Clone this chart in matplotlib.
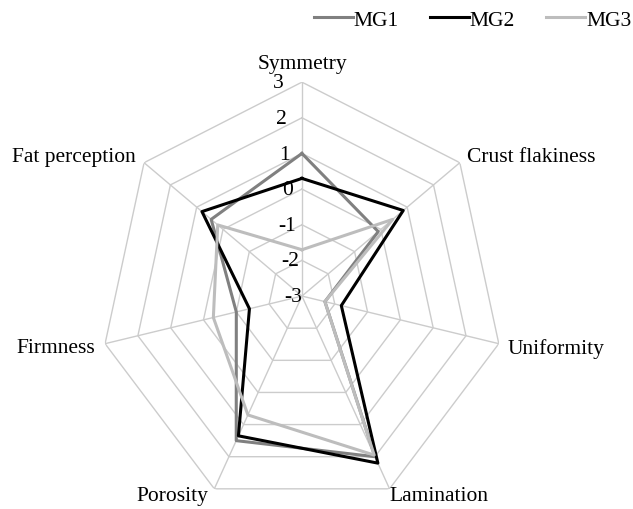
import numpy as np
import matplotlib
matplotlib.use("Agg")
import matplotlib.pyplot as plt

plt.rcParams['font.family'] = ['Liberation Serif', 'DejaVu Serif']

atributos = ["Symmetry", "Crust flakiness", "Uniformity", "Lamination",
             "Porosity", "Firmness", "Fat perception"]
mg1 = [1.0, -0.1, -2.3, 2.0, 1.5, -1.0, 0.45]
mg2 = [0.3, 0.85, -1.8, 2.2, 1.35, -1.4, 0.8]
mg3 = [-1.7, 0.45, -2.3, 1.95, 0.7, -0.3, 0.2]
series = {"MG1": mg1, "MG2": mg2, "MG3": mg3}
colores = {"MG1": "#808080", "MG2": "#000000", "MG3": "#bdbdbd"}
niveles = [-3, -2, -1, 0, 1, 2, 3]

n = len(atributos)
ang = np.arange(n) * 2 * np.pi / n
ang_c = np.append(ang, ang[0])

fig = plt.figure(figsize=(6.33, 5.10), dpi=100)
ax = fig.add_axes([0.158, -0.002, 0.638, 0.839], projection="polar")
ax.set_theta_zero_location("N")
ax.set_theta_direction(-1)
ax.set_ylim(niveles[0], niveles[-1])
ax.set_aspect("auto")
ax.grid(False)
ax.spines["polar"].set_visible(False)
ax.set_xticks([])
ax.set_yticks([])

# heptagon rings and spokes
for r in niveles[1:]:
    ax.plot(ang_c, [r] * (n + 1), color="#cccccc", lw=1.0, zorder=1)
for a in ang:
    ax.plot([a, a], [niveles[0], niveles[-1]], color="#cccccc", lw=1.0, zorder=1)

for r in niveles:
    ax.text(-0.09, r, str(r), ha="right", va="center", fontsize=15.5)

for nombre, vals in series.items():
    v = vals + vals[:1]
    ax.plot(ang_c, v, color=colores[nombre], lw=2.2, label=nombre, zorder=3)

# category labels placed off the outer vertices (offsets in points)
pos = [((0, 10), "center", "baseline"), ((5, 4.3), "left", "center"),
       ((6.5, -3), "left", "center"), ((0, -5), "left", "center"),
       ((-4.3, -5), "right", "center"), ((-7, -3), "right", "center"),
       ((-6, 4.3), "right", "center")]
for a, txt, (off, ha, va) in zip(ang, atributos, pos):
    ax.annotate(txt, xy=(a, niveles[-1]), xytext=off, textcoords="offset points",
                ha=ha, va=va, fontsize=15.5, annotation_clip=False)

fig.legend(loc="upper right", bbox_to_anchor=(1.028, 1.017), ncol=3, frameon=False,
           fontsize=15.5, handlelength=1.8, handletextpad=0.05, columnspacing=1.45)

fig.savefig("out.png", dpi=100)
